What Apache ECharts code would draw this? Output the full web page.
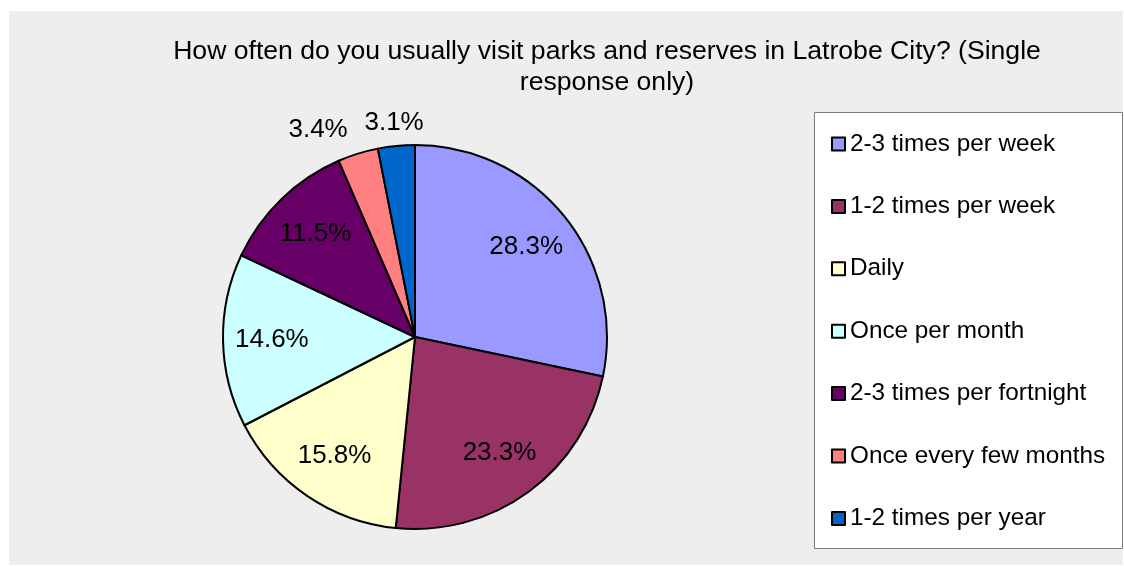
<!DOCTYPE html>
<html>
<head>
<meta charset="utf-8">
<script src="https://cdn.jsdelivr.net/npm/echarts@6/dist/echarts.min.js"></script>
<style>
  html, body { margin: 0; padding: 0; background: #ffffff; }
  #chart { width: 1124px; height: 566px; }
</style>
</head>
<body>
<div id="chart"></div>
<script>
// Survey answers and their shares of respondents (%)
const categories = [
  '2-3 times per week',
  '1-2 times per week',
  'Daily',
  'Once per month',
  '2-3 times per fortnight',
  'Once every few months',
  '1-2 times per year'
];
const shares = [28.3, 23.3, 15.8, 14.6, 11.5, 3.4, 3.1];
const sliceColors = ['#9999ff', '#993366', '#ffffcc', '#ccffff', '#660066', '#ff8080', '#0066cc'];
// slices whose label sits outside the pie
const outsideLabelled = [false, false, false, false, false, true, true];

const titleText = 'How often do you usually visit parks and reserves in Latrobe City? (Single\nresponse only)';

const FONT = '"Liberation Sans", Arial, Helvetica, sans-serif';
const CENTER = [415, 337];
const R = 192;

const chart = echarts.init(document.getElementById('chart'), null, { renderer: 'canvas' });

const sliceData = categories.map((name, i) => ({
  name: name,
  value: shares[i],
  itemStyle: { color: sliceColors[i] }
}));

// transparent copies of the slices, used only to place the percentage labels
function labelData(showOutside) {
  return categories.map((name, i) => ({
    name: name,
    value: shares[i],
    label: { show: outsideLabelled[i] === showOutside }
  }));
}

const labelSeriesBase = {
  type: 'pie',
  center: CENTER,
  startAngle: 90,
  clockwise: true,
  silent: true,
  animation: false,
  legendHoverLink: false,
  emphasis: { disabled: true },
  itemStyle: { color: 'rgba(0,0,0,0)', borderWidth: 0 },
  labelLine: { show: false },
  label: {
    position: 'inside',
    fontFamily: FONT,
    fontSize: 26,
    color: '#000000',
    formatter: p => p.value.toFixed(1) + '%'
  }
};

const option = {
  backgroundColor: '#ffffff',
  animation: false,
  graphic: [
    {
      type: 'rect',
      z: -10,
      silent: true,
      shape: { x: 9, y: 11, width: 1114, height: 554 },
      style: { fill: '#eeeeee' }
    },
    {
      type: 'rect',
      z: -5,
      silent: true,
      shape: { x: 814.5, y: 112.5, width: 308, height: 436 },
      style: { fill: '#ffffff', stroke: '#7a7a7a', lineWidth: 1 }
    }
  ],
  title: {
    text: titleText,
    left: 607,
    top: 36,
    padding: 0,
    textAlign: 'center',
    textStyle: {
      fontFamily: FONT,
      fontSize: 26.6,
      fontWeight: 'normal',
      color: '#000000',
      lineHeight: 31
    }
  },
  legend: {
    orient: 'vertical',
    left: 831,
    top: 132,
    padding: 0,
    itemGap: 38.4,
    itemWidth: 13,
    itemHeight: 13,
    icon: 'rect',
    selectedMode: false,
    data: categories,
    textStyle: {
      fontFamily: FONT,
      fontSize: 24.3,
      color: '#000000',
      lineHeight: 24
    }
  },
  series: [
    {
      type: 'pie',
      name: 'slices',
      center: CENTER,
      radius: R,
      startAngle: 90,
      clockwise: true,
      animation: false,
      emphasis: { disabled: true },
      itemStyle: { borderColor: '#000000', borderWidth: 2 },
      label: { show: false },
      labelLine: { show: false },
      data: sliceData
    },
    Object.assign({}, labelSeriesBase, {
      name: 'inner labels',
      radius: [0, R * 1.46],
      data: labelData(false)
    }),
    Object.assign({}, labelSeriesBase, {
      name: 'outer labels',
      radius: [0, R * 2.21],
      data: labelData(true),
      labelLayout: function (p) {
        // keep the two thin-slice labels from colliding
        return p.dataIndex === 5 ? { dx: -33, dy: -2 } : {};
      }
    })
  ]
};

chart.setOption(option);
</script>
</body>
</html>
